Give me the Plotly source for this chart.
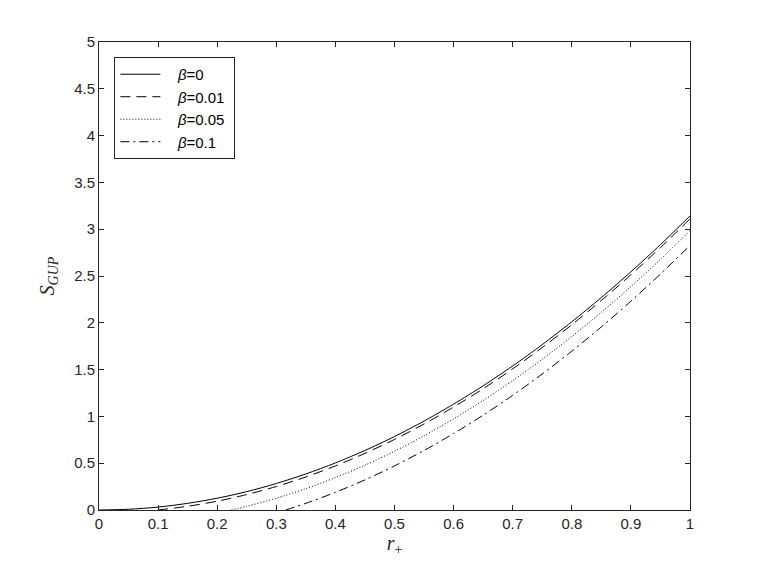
import plotly.graph_objects as go

# values
r_b0 = [0, 0.05, 0.1, 0.15, 0.2, 0.25, 0.3, 0.35, 0.4, 0.45, 0.5, 0.55, 0.6, 0.65, 0.7, 0.75, 0.8, 0.85, 0.9, 0.95, 1.0]
s_b0 = [0, 0.008, 0.031, 0.071, 0.126, 0.196, 0.283, 0.385, 0.503, 0.636, 0.785, 0.950, 1.131, 1.327, 1.539, 1.767, 2.011, 2.270, 2.545, 2.835, 3.142]

r_b001 = [0.1, 0.15, 0.2, 0.25, 0.3, 0.35, 0.4, 0.45, 0.5, 0.55, 0.6, 0.65, 0.7, 0.75, 0.8, 0.85, 0.9, 0.95, 1.0]
s_b001 = [0, 0.040, 0.094, 0.165, 0.251, 0.353, 0.471, 0.605, 0.754, 0.919, 1.100, 1.296, 1.508, 1.736, 1.979, 2.239, 2.513, 2.804, 3.110]

r_b005 = [0.224, 0.25, 0.3, 0.35, 0.4, 0.45, 0.5, 0.55, 0.6, 0.65, 0.7, 0.75, 0.8, 0.85, 0.9, 0.95, 1.0]
s_b005 = [0, 0.039, 0.126, 0.228, 0.346, 0.479, 0.628, 0.793, 0.974, 1.170, 1.382, 1.610, 1.854, 2.113, 2.388, 2.678, 2.985]

r_b01 = [0.316, 0.35, 0.4, 0.45, 0.5, 0.55, 0.6, 0.65, 0.7, 0.75, 0.8, 0.85, 0.9, 0.95, 1.0]
s_b01 = [0, 0.071, 0.189, 0.322, 0.471, 0.636, 0.817, 1.013, 1.225, 1.453, 1.697, 1.956, 2.231, 2.521, 2.827]

legend_names = ["<i>β</i>=0", "<i>β</i>=0.01", "<i>β</i>=0.05", "<i>β</i>=0.1"]
dashes = ["solid", "10px,6px", "1px,2px", "9px,4px,2px,4px"]
xs_all = [r_b0, r_b001, r_b005, r_b01]
ys_all = [s_b0, s_b001, s_b005, s_b01]

x_ticks = [0, 0.1, 0.2, 0.3, 0.4, 0.5, 0.6, 0.7, 0.8, 0.9, 1]
x_labels = ["0", "0.1", "0.2", "0.3", "0.4", "0.5", "0.6", "0.7", "0.8", "0.9", "1"]
y_ticks = [0, 0.5, 1, 1.5, 2, 2.5, 3, 3.5, 4, 4.5, 5]
y_labels = ["0", "0.5", "1", "1.5", "2", "2.5", "3", "3.5", "4", "4.5", "5"]

fig = go.Figure()
for name, xs, ys, dash in zip(legend_names, xs_all, ys_all, dashes):
    fig.add_trace(go.Scatter(
        x=xs, y=ys, mode="lines", name="&nbsp;&nbsp;&nbsp;" + name + "&nbsp;",
        line=dict(color="black", width=1, dash=dash, shape="spline", smoothing=0.8),
    ))

axis_common = dict(
    showgrid=False, zeroline=False, showline=True, linecolor="#262626", linewidth=1,
    mirror="ticks", ticks="inside", ticklen=5, tickcolor="#262626",
    tickfont=dict(family="Liberation Sans, Arial, sans-serif", size=15, color="#262626"),
)

fig.update_layout(
    width=763, height=572,
    margin=dict(l=91, r=81, t=34, b=70),
    paper_bgcolor="white", plot_bgcolor="white",
    xaxis=dict(range=[0, 1], tickvals=x_ticks, ticktext=x_labels,
               title=dict(text="<i>r</i><sub>+</sub>", standoff=2,
                          font=dict(family="Liberation Serif, DejaVu Serif, serif", size=20, color="#262626")),
               **axis_common),
    yaxis=dict(range=[0, 5], tickvals=y_ticks, ticktext=y_labels,
               title=dict(text="<i>S</i><sub><i>GUP</i></sub>", standoff=14,
                          font=dict(family="Liberation Serif, DejaVu Serif, serif", size=20, color="#262626")),
               **axis_common),
    legend=dict(x=0.026, y=0.968, xanchor="left", yanchor="top",
                bgcolor="white", bordercolor="#262626", borderwidth=1,
                font=dict(family="Liberation Sans, Arial, sans-serif", size=15, color="black"),
                tracegroupgap=0, itemwidth=40),
    showlegend=True,
)

fig.write_html("out.html")
